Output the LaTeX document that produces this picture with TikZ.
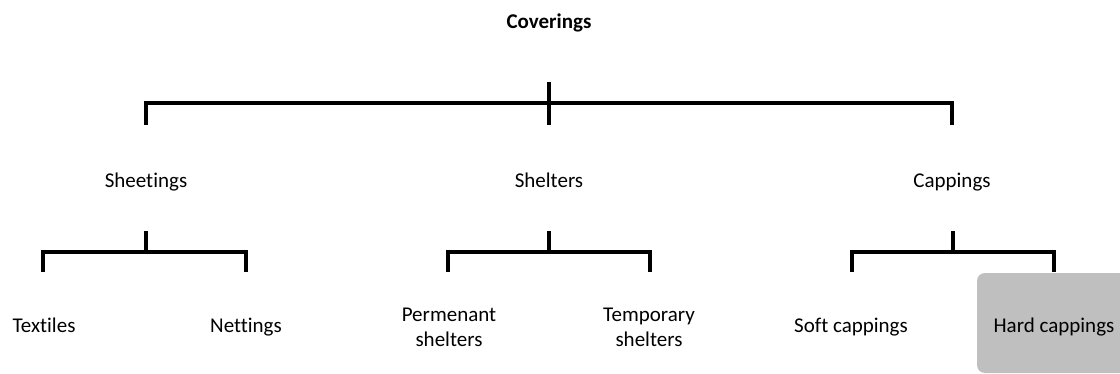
\documentclass[tikz,border=0pt]{standalone}
\usepackage{fontspec}
\setmainfont[Ligatures={NoCommon,NoRequired,NoContextual}]{Carlito}
\begin{document}
\begin{tikzpicture}[x=0.5pt,y=-0.5pt,
  lbl/.style={font=\fontsize{10.5}{12.6}\selectfont, align=center, inner sep=0pt},
  one/.style={lbl, text height=7.2pt, text depth=2.4pt},
  brk/.style={line width=2.4pt, line join=miter},
  hardbox/.style={lbl, text height=11.4pt, text depth=2.4pt, fill=black!25, rounded corners=4pt, minimum width=77pt, minimum height=50pt}]
\useasboundingbox (0,0) rectangle (1120,374);
% labels
\node[one, font=\fontsize{10.5}{12.6}\selectfont\bfseries] (cov) at (549,24) {Coverings};
\node[one] (sheet) at (146,183) {Sheetings};
\node[one] (shel) at (549,183) {Shelters};
\node[one] (cap) at (952,183) {Cappings};
\node[one] (tex) at (44,328) {Textiles};
\node[one] (net) at (246,328) {Nettings};
\node[lbl] (perm) at (449,327) {Permenant\\shelters};
\node[lbl] (temp) at (649,327) {Temporary\\shelters};
\node[one] (soft) at (851,328) {Soft cappings};
\node[hardbox] (hard) at (1054,323) {Hard cappings};
% bracket coordinates
\coordinate (t0) at (549,82);
\coordinate (t1) at (549,125);
\coordinate (tl) at (146,125);
\coordinate (tr) at (952,125);
\coordinate (a0) at (146,231); \coordinate (a1) at (146,252);
\coordinate (al) at (43,272);  \coordinate (ar) at (246,272);
\coordinate (b0) at (549,231); \coordinate (b1) at (549,252);
\coordinate (bl) at (448,272); \coordinate (br) at (650,272);
\coordinate (c0) at (953,231); \coordinate (c1) at (953,252);
\coordinate (cl) at (852,272); \coordinate (cr) at (1054,272);
% top bracket
\draw[brk] (tl) |- (549,103) -| (tr);
\draw[brk] (t0) -- (t1);
% second level brackets
\draw[brk] (al) |- (a1) -| (ar);
\draw[brk] (a0) -- (a1);
\draw[brk] (bl) |- (b1) -| (br);
\draw[brk] (b0) -- (b1);
\draw[brk] (cl) |- (c1) -| (cr);
\draw[brk] (c0) -- (c1);
\end{tikzpicture}
\end{document}
